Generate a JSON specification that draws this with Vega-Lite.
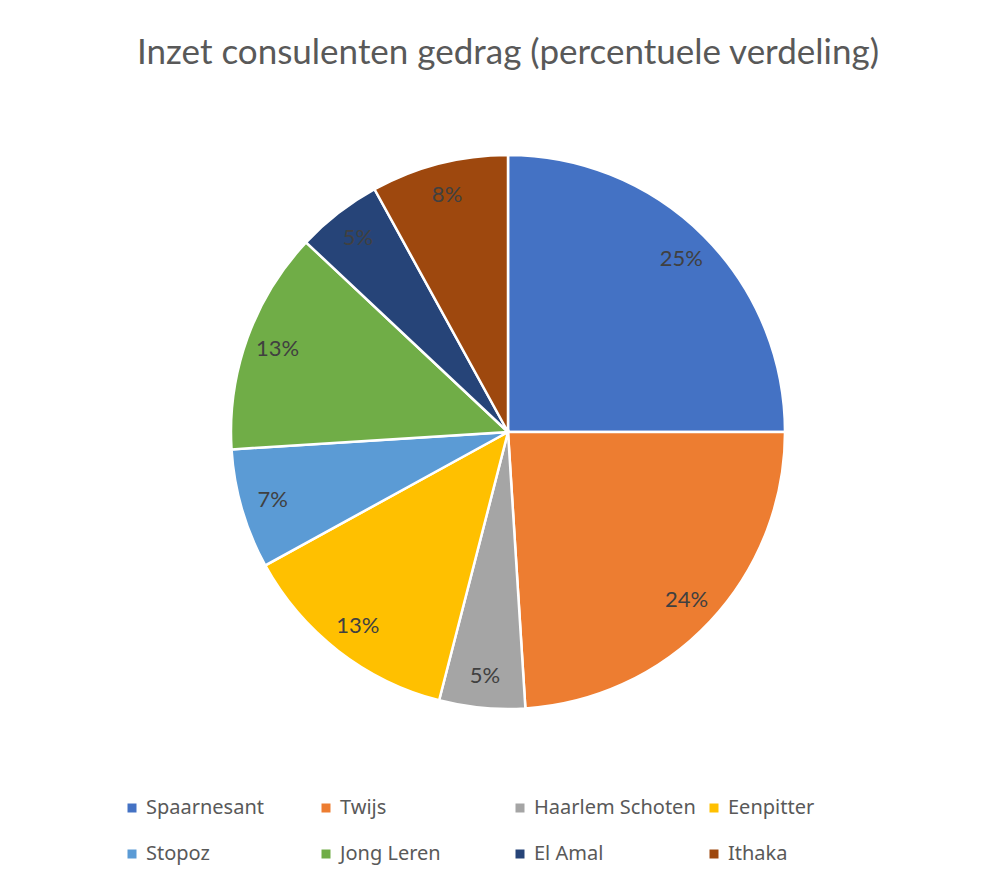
{
  "$schema": "https://vega.github.io/schema/vega-lite/v6.json",
  "width": 1016,
  "height": 704,
  "autosize": {"type": "none"},
  "padding": {"top": 80, "left": 0, "right": 0, "bottom": 96},
  "background": "white",
  "title": {
    "text": "Inzet consulenten gedrag (percentuele verdeling)",
    "font": "Lato",
    "fontSize": 35,
    "fontWeight": "normal",
    "color": "#595959",
    "anchor": "middle",
    "offset": 9
  },
  "data": {
    "values": [
      {"name": "Spaarnesant", "pct": 0.25, "order": 1},
      {"name": "Twijs", "pct": 0.24, "order": 2},
      {"name": "Haarlem Schoten", "pct": 0.05, "order": 3},
      {"name": "Eenpitter", "pct": 0.13, "order": 4},
      {"name": "Stopoz", "pct": 0.07, "order": 5},
      {"name": "Jong Leren", "pct": 0.13, "order": 6},
      {"name": "El Amal", "pct": 0.05, "order": 7},
      {"name": "Ithaka", "pct": 0.08, "order": 8}
    ]
  },
  "encoding": {
    "theta": {"field": "pct", "type": "quantitative", "stack": true},
    "order": {"field": "order", "type": "quantitative"},
    "color": {
      "field": "name",
      "type": "nominal",
      "sort": null,
      "scale": {
        "domain": ["Spaarnesant", "Twijs", "Haarlem Schoten", "Eenpitter", "Stopoz", "Jong Leren", "El Amal", "Ithaka"],
        "range": ["#4472C4", "#ED7D31", "#A5A5A5", "#FFC000", "#5B9BD5", "#70AD47", "#264478", "#9E480E"]
      },
      "legend": {
        "orient": "none",
        "legendX": 122,
        "legendY": 718,
        "direction": "horizontal",
        "columns": 4,
        "gridAlign": "all",
        "symbolType": "square",
        "symbolSize": 81,
        "symbolStrokeWidth": 0,
        "labelFont": "Noto Sans",
        "labelFontSize": 20,
        "labelColor": "#595959",
        "labelOffset": 4,
        "labelLimit": 400,
        "columnPadding": 8,
        "rowPadding": 26,
        "title": null
      }
    }
  },
  "layer": [
    {
      "mark": {"type": "arc", "outerRadius": 277, "stroke": "white", "strokeWidth": 2.5}
    },
    {
      "mark": {"type": "text", "radius": 245, "font": "Lato", "fontSize": 22, "color": "#404040", "align": "center", "baseline": "middle"},
      "encoding": {
        "text": {"field": "pct", "type": "quantitative", "format": ".0%"},
        "color": {"value": "#404040"}
      }
    }
  ],
  "config": {"view": {"stroke": null}}
}
